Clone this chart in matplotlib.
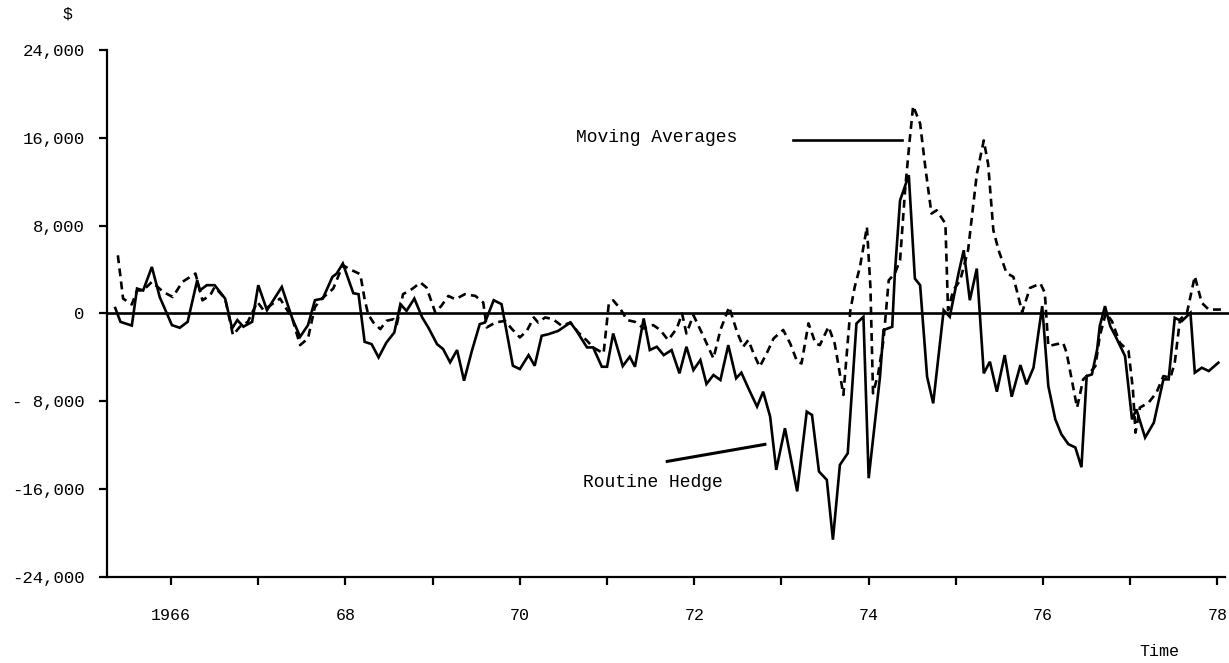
import matplotlib
matplotlib.use("Agg")
import matplotlib.pyplot as plt

# Routine hedge (solid line): dates as decimal years, results in dollars
hedge_dates = [1965.36, 1965.42, 1965.55, 1965.61, 1965.68, 1965.78, 1965.87, 1966.01,
               1966.10, 1966.19, 1966.30, 1966.33, 1966.41, 1966.50, 1966.62, 1966.70,
               1966.76, 1966.83, 1966.93, 1967.00, 1967.10, 1967.27, 1967.39, 1967.48,
               1967.57, 1967.65, 1967.74, 1967.85, 1967.90, 1967.97, 1968.09, 1968.15,
               1968.22, 1968.30, 1968.38, 1968.47, 1968.56, 1968.63, 1968.70, 1968.79,
               1968.88, 1968.95, 1969.05, 1969.12, 1969.20, 1969.28, 1969.36, 1969.45,
               1969.54, 1969.60, 1969.70, 1969.79, 1969.92, 1970.00, 1970.10, 1970.17,
               1970.25, 1970.33, 1970.44, 1970.58, 1970.65, 1970.77, 1970.84, 1970.94,
               1971.00, 1971.07, 1971.18, 1971.26, 1971.32, 1971.42, 1971.49, 1971.57,
               1971.65, 1971.74, 1971.83, 1971.91, 1971.99, 1972.07, 1972.14, 1972.22,
               1972.30, 1972.39, 1972.48, 1972.54, 1972.63, 1972.72, 1972.79, 1972.87,
               1972.94, 1973.04, 1973.18, 1973.29, 1973.35, 1973.43, 1973.52, 1973.59,
               1973.67, 1973.76, 1973.86, 1973.94, 1974.00, 1974.13, 1974.17, 1974.27,
               1974.30, 1974.36, 1974.46, 1974.53, 1974.59, 1974.67, 1974.74, 1974.86,
               1974.93, 1975.03, 1975.09, 1975.16, 1975.24, 1975.32, 1975.39, 1975.47,
               1975.56, 1975.64, 1975.74, 1975.81, 1975.89, 1975.99, 1976.06, 1976.14,
               1976.21, 1976.29, 1976.37, 1976.44, 1976.50, 1976.56, 1976.62, 1976.65,
               1976.71, 1976.77, 1976.83, 1976.94, 1977.02, 1977.07, 1977.17, 1977.27,
               1977.38, 1977.44, 1977.51, 1977.59, 1977.69, 1977.74, 1977.82, 1977.90,
               1978.01]
hedge_values = [500, -760, -1100, 2270, 2100, 4240, 1500, -1060,
                -1300, -760, 3030, 2100, 2580, 2580, 1360, -1360,
                -600, -1200, -760, 2580, 300, 2420, -450, -2120,
                -1060, 1210, 1360, 3330, 3640, 4550, 1850, 1760,
                -2580, -2790, -4000, -2640, -1730, 850, 240, 1360,
                -360, -1270, -2790, -3240, -4450, -3330, -6120, -3390,
                -970, -820, 1210, 850, -4760, -5060, -3790, -4760,
                -2030, -1880, -1580, -820, -1580, -3090, -3090, -4850,
                -4850, -1820, -4790, -3940, -4850, -450, -3330, -3030,
                -3790, -3330, -5450, -3030, -5150, -4240, -6420, -5600,
                -6060, -2880, -5900, -5390, -6970, -8480, -7120, -9390,
                -14240, -10450, -16200, -8940, -9240, -14390, -15150, -20600,
                -13790, -12730, -910, -300, -15000, -5760, -1510, -1210,
                3640, 10300, 12600, 3180, 2580, -5760, -8180, 300,
                -300, 3640, 5760, 1210, 4090, -5450, -4390, -7120,
                -3790, -7580, -4700, -6450, -4940, 670, -6600, -9640,
                -11000, -11900, -12200, -14000, -5700, -5550, -3270, -1150,
                670, -1150, -2060, -3880, -9640, -8730, -11300, -9940,
                -6000, -6000, -390, -700, 60, -5390, -4940, -5240,
                -4480]

# Moving averages (dashed line)
ma_dates = [1965.39, 1965.45, 1965.55, 1965.61, 1965.68, 1965.78, 1965.91, 1966.02,
            1966.13, 1966.28, 1966.36, 1966.45, 1966.50, 1966.62, 1966.71, 1966.79,
            1966.88, 1966.99, 1967.06, 1967.25, 1967.39, 1967.48, 1967.57, 1967.65,
            1967.73, 1967.86, 1967.97, 1968.05, 1968.17, 1968.22, 1968.26, 1968.32,
            1968.40, 1968.47, 1968.55, 1968.59, 1968.66, 1968.76, 1968.86, 1968.93,
            1969.03, 1969.10, 1969.18, 1969.26, 1969.37, 1969.49, 1969.58, 1969.62,
            1969.72, 1969.83, 1969.91, 1970.00, 1970.08, 1970.16, 1970.21, 1970.29,
            1970.38, 1970.48, 1970.58, 1970.67, 1970.77, 1970.84, 1970.96, 1971.02,
            1971.07, 1971.15, 1971.23, 1971.32, 1971.42, 1971.53, 1971.61, 1971.70,
            1971.80, 1971.86, 1971.91, 1971.99, 1972.09, 1972.22, 1972.30, 1972.40,
            1972.49, 1972.56, 1972.62, 1972.68, 1972.75, 1972.83, 1972.91, 1973.02,
            1973.10, 1973.18, 1973.23, 1973.31, 1973.39, 1973.44, 1973.54, 1973.61,
            1973.65, 1973.71, 1973.79, 1973.84, 1973.90, 1973.98, 1974.02, 1974.05,
            1974.11, 1974.17, 1974.23, 1974.30, 1974.36, 1974.42, 1974.47, 1974.51,
            1974.59, 1974.65, 1974.72, 1974.78, 1974.88, 1974.91, 1974.97, 1975.05,
            1975.14, 1975.24, 1975.32, 1975.37, 1975.43, 1975.49, 1975.58, 1975.66,
            1975.76, 1975.85, 1975.97, 1976.02, 1976.06, 1976.14, 1976.23, 1976.27,
            1976.39, 1976.46, 1976.52, 1976.60, 1976.65, 1976.72, 1976.79, 1976.88,
            1976.98, 1977.03, 1977.06, 1977.11, 1977.21, 1977.30, 1977.38, 1977.46,
            1977.51, 1977.57, 1977.65, 1977.74, 1977.82, 1977.90, 1978.05]
ma_values = [5300, 1360, 820, 2100, 2100, 2880, 1970, 1500,
             2880, 3640, 1200, 1670, 2420, 1360, -1970, -1200,
             -760, 1060, 300, 1360, -450, -2880, -2270, 600,
             1360, 2270, 4400, 4030, 3580, 1300, -60, -820,
             -1420, -670, -520, -970, 1760, 2210, 2820, 2360,
             90, 700, 1600, 1300, 1760, 1600, 1000, -1270,
             -820, -670, -1420, -2180, -1580, -360, -820, -360,
             -520, -1120, -820, -1730, -2480, -3090, -3640, 900,
             1200, 450, -600, -760, -1360, -1060, -1500, -2420,
             -1360, 0, -1820, -150, -1820, -4090, -1500, 600,
             -1670, -3030, -2420, -3640, -4850, -3640, -2270, -1500,
             -2730, -4390, -4550, -900, -2730, -2880, -1200, -2730,
             -4550, -7420, 300, 2420, 4240, 7880, 2420, -7270,
             -5450, -2420, 3030, 3640, 4850, 11500, 15760, 18900,
             17300, 13300, 9100, 9400, 8180, 300, 2120, 3030,
             5760, 12700, 15760, 13600, 7580, 5760, 3700, 3330,
             120, 2330, 2730, 1880, -2970, -2820, -2670, -3580,
             -8570, -6000, -5550, -4790, -2060, 60, -700, -2670,
             -3420, -6900, -10850, -8570, -8120, -7210, -5700, -5850,
             -4480, -550, 60, 3390, 970, 360, 360]

year_ticks = list(range(1966, 1979))
year_labels = ['1966', '', '68', '', '70', '', '72', '', '74', '', '76', '', '78']
value_ticks = [-24000, -16000, -8000, 0, 8000, 16000, 24000]
value_labels = ['-24,000', '-16,000', '- 8,000', '0', '8,000', '16,000', '24,000']

FONT = 'Liberation Mono'


def hedge_chart():
    fig = plt.figure(figsize=(12.29, 6.63), dpi=100)
    ax = fig.add_axes([0.0871, 0.1297, 0.9097, 0.7949])

    # the two hedging results
    ax.plot(hedge_dates, hedge_values, color='black', linewidth=1.9,
            solid_joinstyle='miter')
    ax.plot(ma_dates, ma_values, color='black', linewidth=1.9,
            dashes=(3, 2), dash_capstyle='butt')

    # zero line across the whole width
    ax.axhline(0, color='black', linewidth=1.9, xmax=1.004, clip_on=False)

    ax.set_xlim(1965.266, 1978.087)
    ax.set_ylim(-24000, 24000)

    # only the left and bottom axes, typewriter style
    ax.spines['top'].set_visible(False)
    ax.spines['right'].set_visible(False)
    ax.spines['left'].set_linewidth(1.6)
    ax.spines['bottom'].set_linewidth(1.6)

    ax.set_xticks(year_ticks)
    ax.set_xticklabels(year_labels, fontfamily=FONT, fontsize=12)
    ax.set_yticks(value_ticks)
    ax.set_yticklabels(value_labels, fontfamily=FONT, fontsize=12.5)
    ax.tick_params(axis='x', direction='out', length=6, width=1.6, pad=16)
    ax.tick_params(axis='y', direction='out', length=6, width=1.6, pad=10)

    # labels on the lines
    ax.text(1971.57, 16000, 'Moving Averages', fontfamily=FONT, fontsize=13,
            ha='center', va='center')
    ax.plot([1973.13, 1974.38], [15800, 15800], color='black', linewidth=1.9)
    ax.text(1970.72, -15400, 'Routine Hedge', fontfamily=FONT, fontsize=13,
            ha='left', va='center')
    ax.plot([1971.69, 1972.81], [-13470, -11920], color='black', linewidth=2.2)

    # unit and axis name
    fig.text(68 / 1229, 1 - 14 / 663, '$', fontfamily=FONT, fontsize=12,
             ha='center', va='center')
    fig.text(1159 / 1229, 1 - 652 / 663, 'Time', fontfamily=FONT, fontsize=12,
             ha='center', va='center')

    return fig


fig = hedge_chart()
fig.savefig('out.png', dpi=100)
